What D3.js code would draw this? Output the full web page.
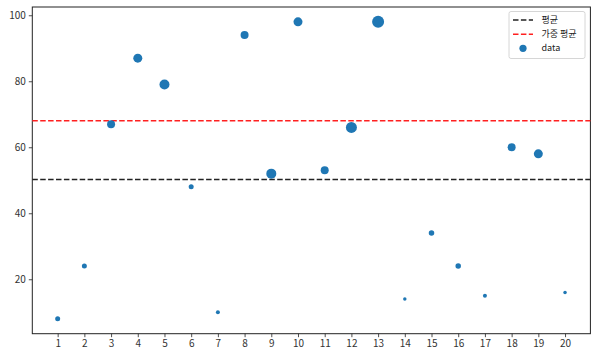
<!DOCTYPE html>
<html><head><meta charset="utf-8">
<script src="https://cdn.jsdelivr.net/npm/d3@7"></script>
<style>
html,body{margin:0;padding:0;background:#fff;}
svg text{font-family:"Noto Sans CJK KR","Noto Sans",sans-serif;}
</style></head>
<body><div id="chart"></div>
<script>
const categories = [1,2,3,4,5,6,7,8,9,10,11,12,13,14,15,16,17,18,19,20];
const values = [8,24,67,87,79,48,10,94,52,98,53,66,98,14,34,24,15,60,58,16];
// marker diameters (px)
const sizes = [5,5,8,9,10,5,4,8,10,9,8,11,12,3.5,5.5,5.5,4,8,9,3.5];
const weightedMean = 68.0;
const legendLabels = ["평균","가중 평균","data"];
const yTicks = [20,40,60,80,100];

const W = 597, H = 356;
const m = {left:32.3, right:597-590.4, top:7, bottom:356-333.7};
const svg = d3.select("#chart").append("svg").attr("width",W).attr("height",H);

const xMin = d3.min(categories), xMax = d3.max(categories);
const xPad = (xMax-xMin)*0.05;
const yMin = d3.min(values), yMax = d3.max(values);
const yPad = (yMax-yMin)*0.05;
const x = d3.scaleLinear().domain([xMin-xPad, xMax+xPad]).range([m.left, W-m.right]);
const y = d3.scaleLinear().domain([yMin-yPad, yMax+yPad]).range([H-m.bottom, m.top]);
const mean = d3.mean(values);

// axes
const xAxis = svg.append("g").attr("transform",`translate(0,${H-m.bottom})`)
  .call(d3.axisBottom(x).tickValues(categories).tickFormat(d3.format("d")).tickSize(3.5).tickPadding(3));
const yAxis = svg.append("g").attr("transform",`translate(${m.left},0)`)
  .call(d3.axisLeft(y).tickValues(yTicks).tickSize(3.5).tickPadding(3));
[xAxis,yAxis].forEach(g=>{
  g.select(".domain").remove();
  g.selectAll("line").attr("stroke","#222").attr("stroke-width",0.8);
  g.selectAll("text").attr("fill","#333").attr("font-size","10px");
});

// frame
svg.append("rect").attr("x",m.left).attr("y",m.top)
  .attr("width",W-m.right-m.left).attr("height",H-m.bottom-m.top)
  .attr("fill","none").attr("stroke","#222").attr("stroke-width",1);

// mean lines
svg.append("line").attr("x1",m.left).attr("x2",W-m.right)
  .attr("y1",y(mean)).attr("y2",y(mean))
  .attr("stroke","#222").attr("stroke-width",1.5).attr("stroke-dasharray","5.5,2.4");
svg.append("line").attr("x1",m.left).attr("x2",W-m.right)
  .attr("y1",y(weightedMean)).attr("y2",y(weightedMean))
  .attr("stroke","#ff2020").attr("stroke-width",1.5).attr("stroke-dasharray","5.5,2.4");

// points
svg.append("g").selectAll("circle").data(categories).join("circle")
  .attr("cx",(d)=>x(d)).attr("cy",(d,i)=>y(values[i])).attr("r",(d,i)=>sizes[i]/2)
  .attr("fill","#1f77b4");

// legend
const lg = svg.append("g");
lg.append("rect").attr("x",509).attr("y",11.5).attr("width",76).attr("height",47)
  .attr("rx",2).attr("fill","#fff").attr("fill-opacity",0.8).attr("stroke","#ccc").attr("stroke-width",0.8);
const rows = [20,34.3,48.3];
lg.append("line").attr("x1",513).attr("x2",533).attr("y1",rows[0]).attr("y2",rows[0])
  .attr("stroke","#222").attr("stroke-width",1.5).attr("stroke-dasharray","5.5,2.4");
lg.append("line").attr("x1",513).attr("x2",533).attr("y1",rows[1]).attr("y2",rows[1])
  .attr("stroke","#ff2020").attr("stroke-width",1.5).attr("stroke-dasharray","5.5,2.4");
lg.append("circle").attr("cx",523).attr("cy",rows[2]).attr("r",3.6).attr("fill","#1f77b4");
legendLabels.forEach((t,i)=>{
  lg.append("text").attr("x",541.5).attr("y",rows[i]).attr("dy","0.35em")
    .attr("font-size","9px").attr("fill","#222").text(t);
});
</script></body></html>
